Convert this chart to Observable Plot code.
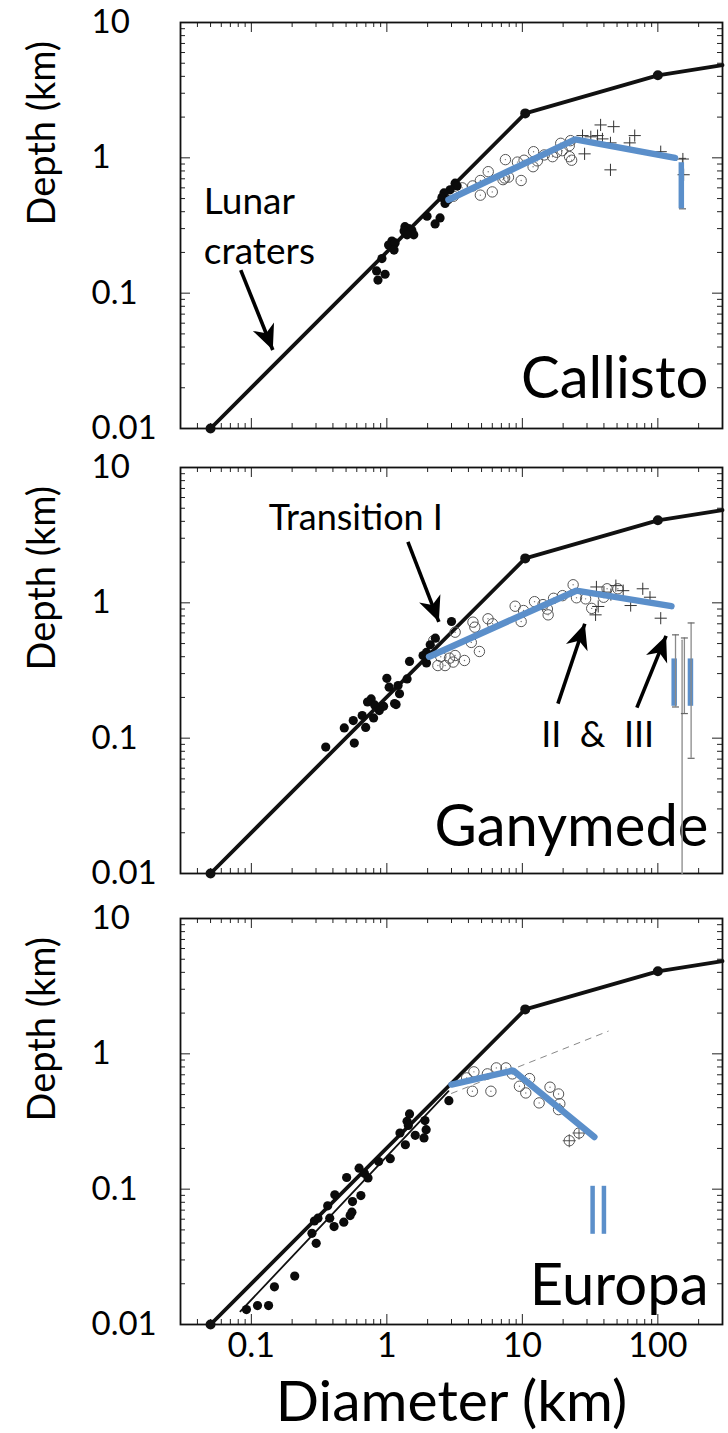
<!DOCTYPE html>
<html><head><meta charset="utf-8">
<script src="https://cdn.jsdelivr.net/npm/d3@7"></script>
<script src="https://cdn.jsdelivr.net/npm/@observablehq/plot@0.6"></script>
<style>
body{margin:0;background:#fff;}
#chart{position:relative;width:728px;height:1433px;overflow:hidden;font-family:Lato,sans-serif;}
#chart svg{position:absolute;left:0;}
</style></head><body><div id="chart"></div>
<script>
// ---------- axes ----------
const xDomain = [0.03, 300];
const yDomain = [0.01, 10];
const xTickValues = [0.1, 1, 10, 100];
const xTickLabels = ["0.1", "1", "10", "100"];
const yTickValues = [0.01, 0.1, 1, 10];
const yTickLabels = ["0.01", "0.1", "1", "10"];
const xTitle = "Diameter (km)";
const yTitle = "Depth (km)";

// ---------- lunar reference curve (all panels) ----------
const lunarCurve = [[0.05, 0.01], [10.5, 2.13], [100, 4.07], [300, 4.85]];
const lunarNodes = [[0.05, 0.01], [10.5, 2.13], [100, 4.07]];

// ---------- Callisto ----------
const callistoSolid = [[3.19,0.65],[3.3,0.62],[2.93,0.58],[2.64,0.55],[2.55,0.51],[2.83,0.49],[2.69,0.46],[1.98,0.37],[2.47,0.36],[2.27,0.325],[1.36,0.31],[1.45,0.30],[1.34,0.288],[1.53,0.29],[1.58,0.27],[1.41,0.27],[1.09,0.243],[1.03,0.227],[1.15,0.235],[1.13,0.208],[0.92,0.18],[0.84,0.146],[0.97,0.138],[0.86,0.125]];
const callistoOpen = [[3.6,0.60],[4.9,0.68],[5.6,0.79],[4.9,0.53],[6.0,0.56],[7.4,0.71],[7.5,0.97],[7.9,0.72],[9.8,0.68],[9.2,0.93],[12.0,0.86],[12.1,1.11],[10.3,0.96],[12.9,0.95],[16.7,1.02],[17.9,1.10],[19.2,1.28],[19.7,1.13],[22.7,1.34],[22.3,1.02],[23.1,0.96],[22.2,1.23],[3.1,0.52],[4.3,0.62],[7.2,0.69],[14.5,1.05]];
const callistoCross = [[37.8,1.75],[47.2,1.70],[27.8,1.46],[32,1.43],[35.9,1.46],[39,1.38],[44.7,1.29],[67.5,1.46],[62,1.29],[105,1.11],[28.8,1.07],[44.7,0.815],[155,0.75],[153,0.98]];
const callistoBlue = [[2.85,0.49],[24.5,1.37],[134,1.0]];
const callistoBlueBarX = [149];
const callistoBlueBarY = [0.42, 0.92];
const callistoErr = [[152, 0.42, 0.99]];

// ---------- Ganymede ----------
const ganymedeSolid = [[0.354,0.086],[0.575,0.092],[0.485,0.119],[0.565,0.135],[0.658,0.147],[0.698,0.12],[0.798,0.141],[0.766,0.195],[0.813,0.176],[0.946,0.172],[1.0,0.277],[1.04,0.238],[1.21,0.245],[1.24,0.213],[1.17,0.177],[1.41,0.274],[1.47,0.369],[1.85,0.408],[1.96,0.36],[2.09,0.49],[2.28,0.548],[3.0,0.728],[1.96,0.43],[0.72,0.185],[0.88,0.16],[1.14,0.18]];
const ganymedeOpen = [[2.22,0.527],[2.38,0.344],[2.69,0.344],[3.09,0.365],[3.19,0.408],[3.74,0.375],[3.19,0.607],[4.32,0.72],[4.46,0.661],[4.82,0.437],[4.2,0.51],[5.58,0.762],[6.03,0.70],[8.85,0.944],[9.8,0.728],[10.2,0.877],[12.3,1.02],[15.3,0.90],[15.5,0.815],[17.0,1.08],[19.8,1.13],[23.7,1.36],[25.1,1.09],[29.3,1.07],[32.5,0.91],[39.8,1.10],[42.2,1.27],[50.7,1.27],[2.5,0.40],[2.9,0.39],[14.2,0.97]];
const ganymedeCross = [[35.2,1.31],[36.3,0.94],[34.7,0.815],[49,1.34],[55.5,1.23],[63,0.955],[77.4,1.27],[87.5,1.10],[105,0.77],[40,1.2],[45,1.15]];
const ganymedeBlue = [[2.05,0.40],[25,1.23],[126,0.945]];
const ganymedeBlueBarX = [132, 174];
const ganymedeBlueBarY = [0.172, 0.385];
const ganymedeErr = [[135,0.17,0.58],[157,0.152,0.55],[176,0.071,0.71]];
const ganymedeLongLine = [[151,0.01],[151,0.53]];

// ---------- Europa ----------
const europaSolid = [[2.87,0.451],[1.47,0.36],[1.41,0.317],[1.44,0.296],[1.91,0.321],[1.95,0.275],[1.88,0.239],[1.62,0.25],[1.25,0.26],[1.37,0.213],[1.06,0.168],[0.87,0.16],[0.624,0.143],[0.683,0.131],[0.726,0.121],[0.505,0.122],[0.413,0.0908],[0.643,0.0897],[0.558,0.081],[0.552,0.0676],[0.536,0.0638],[0.366,0.0753],[0.292,0.0582],[0.31,0.061],[0.379,0.061],[0.408,0.0529],[0.481,0.057],[0.28,0.0472],[0.301,0.0398],[0.209,0.0228],[0.148,0.019],[0.092,0.0129],[0.111,0.0138],[0.134,0.0138]];
const europaOpen = [[3.88,0.664],[4.39,0.736],[4.28,0.529],[5.52,0.711],[5.86,0.529],[6.43,0.787],[7.57,0.787],[8.44,0.711],[9.52,0.576],[10.6,0.514],[11.3,0.656],[13.3,0.434],[16.0,0.567],[18.5,0.505],[18.9,0.428],[18.5,0.387]];
const europaCircledPlus = [[22.2,0.228],[26.2,0.26]];
const europaBlue = [[3.0,0.593],[8.55,0.753],[34,0.243]];
const europaBlueBarX = [33, 40];
const europaBlueBarY = [0.0464, 0.105];
const europaFit = [[0.083,0.0125],[2.85,0.53]];
const europaDashed = [[3.0,0.51],[43,1.47]];

// ---------- annotations ----------
const panelNames = ["Callisto", "Ganymede", "Europa"];
const lunarLabel = [["Lunar", 0.0446, 0.383], ["craters", 0.0446, 0.164]];
const lunarArrow = [[0.0835, 0.148, 0.144, 0.038]];
const ganymedeLabels = [["Transition I", 0.59, 3.46], ["II\u00a0\u00a0&\u00a0\u00a0III", 36, 0.0865]];
const ganymedeArrows = [[1.43, 2.82, 2.42, 0.724], [18.3, 0.18, 28.9, 0.70], [70, 0.168, 115, 0.57]];

// ---------- styling ----------
const BLUE = "#5b8fca";
const FONT = "Lato";
const PH = 406, PW = 542, ML = 180, MR = 6;

const arrowHead = {draw(ctx, size) {
  const r = Math.sqrt(size / Math.PI);
  ctx.moveTo(0, 0); ctx.lineTo(-0.95 * r, 2.1 * r); ctx.lineTo(0, 1.5 * r); ctx.lineTo(0.95 * r, 2.1 * r); ctx.closePath();
}};
const capSym = {draw(ctx, size) {
  const r = Math.sqrt(size / Math.PI);
  ctx.moveTo(-r, 0); ctx.lineTo(r, 0);
}};

function minorTicks(lo, hi) {
  const out = [];
  for (let e = Math.floor(Math.log10(lo)); e <= Math.ceil(Math.log10(hi)); e++)
    for (let k = 2; k <= 9; k++) { const v = k * Math.pow(10, e); if (v > lo * 1.0001 && v < hi * 0.9999) out.push(v); }
  return out;
}
const xMajorIn = xTickValues;
const yMajorIn = [0.1, 1];
const xMinor = minorTicks(xDomain[0], xDomain[1]);
const yMinor = minorTicks(yDomain[0], yDomain[1]);

const X = d => d[0], Y = d => d[1];

function frameMarks() {
  const t = {stroke: "#222", strokeWidth: 1};
  return [
    Plot.ruleX(xMajorIn, {...t, insetBottom: PH - 10}),
    Plot.ruleX(xMajorIn, {...t, insetTop: PH - 10}),
    Plot.ruleX(xMinor, {...t, insetBottom: PH - 5}),
    Plot.ruleX(xMinor, {...t, insetTop: PH - 5}),
    Plot.ruleY(yMajorIn, {...t, insetRight: PW - 10}),
    Plot.ruleY(yMajorIn, {...t, insetLeft: PW - 10}),
    Plot.ruleY(yMinor, {...t, insetRight: PW - 5}),
    Plot.ruleY(yMinor, {...t, insetLeft: PW - 5}),
    Plot.frame({stroke: "#111", strokeWidth: 1.8})
  ];
}

function lunarMarks() {
  return [
    Plot.line(lunarCurve, {x: X, y: Y, stroke: "#111", strokeWidth: 3.8}),
    Plot.dot(lunarNodes, {x: X, y: Y, r: 5, fill: "#111"})
  ];
}
function openMarks(data) {
  return [
    Plot.dot(data, {x: X, y: Y, r: 5.2, stroke: "#555", strokeWidth: 1, fill: "none"}),
    Plot.dot(data, {x: X, y: Y, r: 0.7, fill: "#777"})
  ];
}
function crossMarks(data) {
  return [Plot.dot(data, {x: X, y: Y, symbol: "plus", r: 4, stroke: "#333", strokeWidth: 1})];
}
function solidMarks(data) {
  return [Plot.dot(data, {x: X, y: Y, r: 4.6, fill: "#0b0b0b"})];
}
function blueMarks(line, barX, barY, barW) {
  return [
    Plot.line(line, {x: X, y: Y, stroke: BLUE, strokeWidth: 6.5, strokeLinejoin: "miter"}),
    Plot.ruleX(barX.map(x => ({x, y1: barY[0], y2: barY[1]})), {x: "x", y1: "y1", y2: "y2", stroke: BLUE, strokeWidth: barW})
  ];
}
function errMarks(errs) {
  const data = errs.map(([x, lo, hi]) => ({x, lo, hi}));
  return [
    Plot.ruleX(data, {x: "x", y1: "lo", y2: "hi", stroke: "#8a8a8a", strokeWidth: 1.3}),
    Plot.dot(data, {x: "x", y: "lo", symbol: capSym, r: 3.5, stroke: "#666", strokeWidth: 1.2, fill: "none"}),
    Plot.dot(data, {x: "x", y: "hi", symbol: capSym, r: 3.5, stroke: "#666", strokeWidth: 1.2, fill: "none"})
  ];
}
function arrowMarks(arrows) {
  const data = arrows.map(([x1, y1, x2, y2]) => ({x1, y1, x2, y2,
    ang: Math.atan2(Math.log10(x2) - Math.log10(x1), Math.log10(y2) - Math.log10(y1)) * 180 / Math.PI}));
  return [
    Plot.link(data, {x1: "x1", y1: "y1", x2: "x2", y2: "y2", stroke: "#000", strokeWidth: 3.6}),
    Plot.dot(data, {x: "x2", y: "y2", symbol: arrowHead, r: 12, fill: "#000", stroke: "none", rotate: "ang"})
  ];
}
function nameMark(name, dy) {
  return Plot.text([name], {text: d => d, frameAnchor: "bottom-right", dx: -14, dy: dy, textAnchor: "end", lineAnchor: "bottom", fontSize: 58, fontFamily: FONT, fill: "#000"});
}
function yAxisMarks() {
  const fmt = new Map(yTickValues.map((v, i) => [v, yTickLabels[i]]));
  return [
    Plot.axisY({ticks: yTickValues, tickFormat: d => fmt.get(d), tickSize: 0, tickPadding: 89, textAnchor: "start", fontSize: 33, fontFamily: FONT, fill: "#000", label: null}),
    Plot.text([yTitle], {text: d => d, frameAnchor: "left", rotate: -90, dx: -138, fontSize: 38, fontFamily: FONT, fill: "#000"})
  ];
}

function makePlot(marks, mt, mb) {
  return Plot.plot({
    width: 728, height: mt + PH + mb,
    marginLeft: ML, marginRight: MR, marginTop: mt, marginBottom: mb,
    x: {type: "log", domain: xDomain, axis: null},
    y: {type: "log", domain: yDomain, axis: null},
    style: {fontFamily: FONT, background: "transparent", overflow: "visible"},
    marks
  });
}

const chart = document.getElementById("chart");

// Callisto
const p1 = makePlot([
  ...frameMarks(),
  ...lunarMarks(),
  ...errMarks(callistoErr),
  ...openMarks(callistoOpen),
  ...crossMarks(callistoCross),
  ...solidMarks(callistoSolid),
  ...blueMarks(callistoBlue, callistoBlueBarX, callistoBlueBarY, 5.5),
  Plot.text(lunarLabel, {x: d => d[1], y: d => d[2], text: d => d[0], textAnchor: "start", lineAnchor: "bottom", fontSize: 37, fontFamily: FONT, fill: "#000"}),
  ...arrowMarks(lunarArrow),
  nameMark(panelNames[0], -31),
  ...yAxisMarks()
], 22, 8);
p1.style.top = "0px";
chart.appendChild(p1);

// Ganymede
const p2 = makePlot([
  ...frameMarks(),
  ...lunarMarks(),
  ...openMarks(ganymedeOpen),
  ...crossMarks(ganymedeCross),
  ...solidMarks(ganymedeSolid),
  ...blueMarks(ganymedeBlue, ganymedeBlueBarX, ganymedeBlueBarY, 5.5),
  Plot.text(ganymedeLabels, {x: d => d[1], y: d => d[2], text: d => d[0], textAnchor: "middle", lineAnchor: "bottom", fontSize: 36, fontFamily: FONT, fill: "#000"}),
  ...arrowMarks(ganymedeArrows),
  nameMark(panelNames[1], -28),
  Plot.line(ganymedeLongLine, {x: X, y: Y, stroke: "#999", strokeWidth: 1.5}),
  ...errMarks(ganymedeErr),
  ...yAxisMarks()
], 20, 8);
p2.style.top = "447px";
chart.appendChild(p2);

// Europa
const fmtX = new Map(xTickValues.map((v, i) => [v, xTickLabels[i]]));
const mb3 = 1433 - 898 - 20 - PH;
const p3 = makePlot([
  ...frameMarks(),
  ...lunarMarks(),
  Plot.line(europaFit, {x: X, y: Y, stroke: "#111", strokeWidth: 1.8}),
  Plot.line(europaDashed, {x: X, y: Y, stroke: "#888", strokeWidth: 1, strokeDasharray: "6,6"}),
  ...openMarks(europaOpen),
  ...openMarks(europaCircledPlus),
  Plot.dot(europaCircledPlus, {x: X, y: Y, symbol: "plus", r: 4.3, stroke: "#555", strokeWidth: 1}),
  ...solidMarks(europaSolid),
  ...blueMarks(europaBlue, europaBlueBarX, europaBlueBarY, 4.5),
  nameMark(panelNames[2], -20),
  ...yAxisMarks(),
  Plot.axisX({ticks: xTickValues, tickFormat: d => fmtX.get(d), tickSize: 0, tickPadding: 8, fontSize: 34, fontFamily: FONT, fill: "#000", label: null}),
  Plot.text([xTitle], {text: d => d, frameAnchor: "bottom", dy: 96, lineAnchor: "bottom", fontSize: 57, fontFamily: FONT, fill: "#000"})
], 20, mb3);
p3.style.top = "898px";
chart.appendChild(p3);
</script></body></html>
